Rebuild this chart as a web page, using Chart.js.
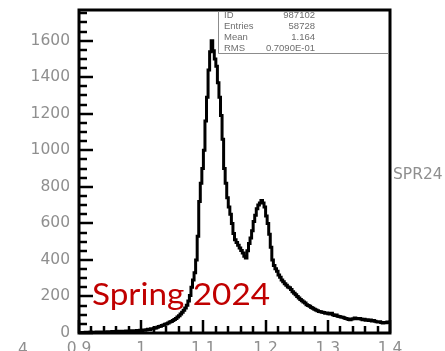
<!DOCTYPE html>
<html>
<head>
<meta charset="utf-8">
<script src="https://cdn.jsdelivr.net/npm/chart.js@4.4.1/dist/chart.umd.min.js"></script>
<style>
  html, body { margin: 0; padding: 0; background: #fff; overflow: hidden; }
  #wrap { width: 445px; height: 351px; overflow: hidden; position: relative; }
  canvas { display: block; }
</style>
</head>
<body>
<div id="wrap"><canvas id="c" width="445" height="362"></canvas></div>
<script>
// Histogram range and bin contents (200 bins, 0.9 .. 1.4)
const xRange = [0.9, 1.4];
const binCounts = [
  2, 1, 3, 2, 4, 3, 2, 5, 3, 4,
  3, 5, 4, 6, 3, 5, 6, 4, 7, 5,
  6, 8, 5, 7, 9, 6, 8, 10, 7, 9,
  11, 8, 10, 12, 9, 13, 11, 14, 12, 15,
  14, 16, 15, 18, 20, 19, 23, 22, 26, 28,
  31, 35, 37, 41, 44, 48, 51, 55, 60, 63,
  68, 74, 80, 88, 95, 104, 113, 124, 137, 152,
  175, 205, 250, 290, 330, 400, 530, 720, 820, 900,
  1000, 1160, 1290, 1440, 1540, 1600, 1545, 1500, 1460, 1370,
  1290, 1190, 1060, 900, 820, 740, 690, 650, 600, 545,
  510, 495, 480, 465, 452, 438, 420, 410, 450, 490,
  520, 560, 610, 645, 680, 700, 712, 725, 712, 690,
  640, 600, 540, 470, 400, 370, 352, 338, 318, 305,
  290, 280, 270, 262, 252, 248, 238, 226, 218, 210,
  200, 192, 184, 176, 170, 164, 155, 150, 146, 140,
  136, 130, 126, 122, 118, 116, 113, 112, 108, 110,
  106, 104, 108, 100, 96, 98, 92, 90, 88, 86,
  84, 80, 78, 74, 72, 76, 78, 82, 80, 78,
  80, 76, 73, 75, 70, 72, 69, 71, 66, 68,
  64, 62, 60, 62, 57, 55, 58, 56, 60, 58
];

// Axis ticks
const xMajorTicks = [0.9, 1.0, 1.1, 1.2, 1.3, 1.4];
const xMajorLabels = ['0.9', '1', '1.1', '1.2', '1.3', '1.4'];
const xMinorStep = 0.02;
const yMax = 1768;
const yMajorTicks = [0, 200, 400, 600, 800, 1000, 1200, 1400, 1600];
const yMajorLabels = ['0', '200', '400', '600', '800', '1000', '1200', '1400', '1600'];
const yMinorStep = 50;

// Statistics box
const statLabels = ['ID', 'Entries', 'Mean', 'RMS'];
const statValues = ['987102', '58728', '1.164', '0.7090E-01'];

const caption = 'Spring 2024';
const sideTitle = 'SPR24';

// Step outline points: low edge of each bin, plus closing point at the upper edge
const binWidth = (xRange[1] - xRange[0]) / binCounts.length;
const histPoints = binCounts.map((c, i) => ({ x: xRange[0] + i * binWidth, y: c }));
histPoints.push({ x: xRange[1], y: binCounts[binCounts.length - 1] });

const xTickList = [];
for (let v = xRange[0]; v <= xRange[1] + 1e-9; v += xMinorStep) xTickList.push(+v.toFixed(4));
const yTickList = [];
for (let v = 0; v <= yMax; v += yMinorStep) yTickList.push(v);

function labelFor(value, majors, labels) {
  for (let k = 0; k < majors.length; k++) {
    if (Math.abs(value - majors[k]) < 1e-6) return labels[k];
  }
  return '';
}

const LABEL_FONT = { family: 'DejaVu Sans', size: 15.5 };
const LABEL_COLOR = '#8f8f8f';

// Inward ticks, frame, stats box and captions
const decorations = {
  id: 'decorations',
  afterDraw(chart) {
    const ctx = chart.ctx;
    const a = chart.chartArea;
    const xs = chart.scales.x, ys = chart.scales.y;
    ctx.save();
    ctx.strokeStyle = '#000';
    ctx.lineWidth = 2.5;
    ctx.lineCap = 'butt';
    xs.ticks.forEach(t => {
      const px = Math.round(xs.getPixelForValue(t.value));
      const major = labelFor(t.value, xMajorTicks, xMajorLabels) !== '';
      const len = major ? 13 : 7;
      ctx.beginPath();
      ctx.moveTo(px, a.bottom);
      ctx.lineTo(px, a.bottom - len);
      ctx.stroke();
    });
    ys.ticks.forEach(t => {
      const py = Math.round(ys.getPixelForValue(t.value));
      const major = labelFor(t.value, yMajorTicks, yMajorLabels) !== '';
      const len = major ? 14 : 8;
      ctx.beginPath();
      ctx.moveTo(a.left, py);
      ctx.lineTo(a.left + len, py);
      ctx.stroke();
    });
    // frame
    ctx.lineWidth = 3;
    ctx.strokeRect(a.left, a.top, a.right - a.left, a.bottom - a.top);

    // statistics box
    const boxLeft = 218, boxBottom = 53;
    ctx.strokeStyle = '#8c8c8c';
    ctx.lineWidth = 1;
    ctx.beginPath();
    ctx.moveTo(boxLeft + 0.5, a.top + 1);
    ctx.lineTo(boxLeft + 0.5, boxBottom + 0.5);
    ctx.lineTo(a.right - 1, boxBottom + 0.5);
    ctx.stroke();
    ctx.fillStyle = '#6e6e6e';
    ctx.font = '9.5px "Liberation Sans"';
    ctx.textBaseline = 'middle';
    statLabels.forEach((s, k) => {
      const y = 15.5 + k * 11;
      ctx.textAlign = 'left';
      ctx.fillText(s, 224, y);
      ctx.textAlign = 'right';
      ctx.fillText(statValues[k], 315, y);
    });

    // neighbouring labels
    ctx.fillStyle = LABEL_COLOR;
    ctx.font = LABEL_FONT.size + 'px "DejaVu Sans"';
    ctx.textAlign = 'left';
    ctx.textBaseline = 'alphabetic';
    ctx.fillText(sideTitle, 393, 179);
    ctx.fillText('4', 18, 354);

    // caption
    ctx.fillStyle = '#c00000';
    ctx.font = '31px Lato';
    const w = ctx.measureText(caption).width;
    ctx.translate(92, 305);
    ctx.scale(178 / w, 1);
    ctx.fillText(caption, 0, 0);
    ctx.restore();
  }
};

new Chart(document.getElementById('c'), {
  type: 'line',
  data: {
    datasets: [{
      data: histPoints,
      stepped: 'before',
      borderColor: '#000',
      borderWidth: 3,
      pointRadius: 0,
      fill: false,
      tension: 0
    }]
  },
  options: {
    responsive: false,
    devicePixelRatio: 1,
    animation: false,
    layout: { padding: { left: 0, top: 10, right: 55, bottom: 0 } },
    plugins: { legend: { display: false }, tooltip: { enabled: false } },
    scales: {
      x: {
        type: 'linear',
        min: xRange[0],
        max: xRange[1],
        afterBuildTicks: s => { s.ticks = xTickList.map(v => ({ value: v })); },
        afterFit: s => {
          s.height = 362 - 333;
          s.paddingLeft = 0; s.paddingRight = 0; s.paddingTop = 0; s.paddingBottom = 0;
        },
        grid: { display: false, drawTicks: false },
        border: { display: false },
        ticks: {
          autoSkip: false,
          maxRotation: 0,
          padding: 7,
          font: LABEL_FONT,
          color: LABEL_COLOR,
          callback: v => labelFor(v, xMajorTicks, xMajorLabels)
        }
      },
      y: {
        type: 'linear',
        min: 0,
        max: yMax,
        afterBuildTicks: s => { s.ticks = yTickList.map(v => ({ value: v })); },
        afterFit: s => {
          s.width = 79;
          s.paddingLeft = 0; s.paddingRight = 0; s.paddingTop = 0; s.paddingBottom = 0;
        },
        grid: { display: false, drawTicks: false },
        border: { display: false },
        ticks: {
          autoSkip: false,
          padding: 9,
          font: LABEL_FONT,
          color: LABEL_COLOR,
          callback: v => labelFor(v, yMajorTicks, yMajorLabels)
        }
      }
    }
  },
  plugins: [decorations]
});
</script>
</body>
</html>
